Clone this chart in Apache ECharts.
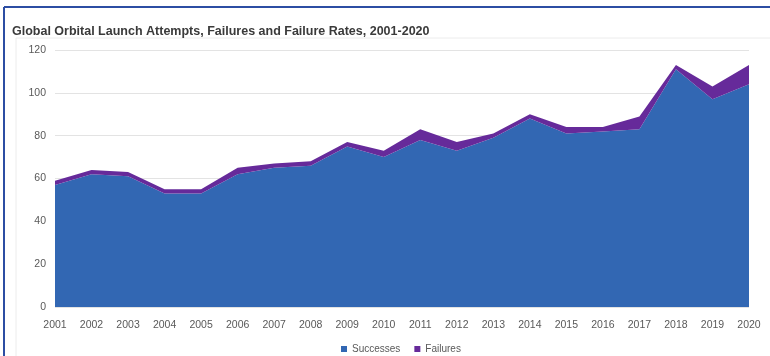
<!DOCTYPE html>
<html>
<head>
<meta charset="utf-8">
<script src="https://cdn.jsdelivr.net/npm/echarts@6/dist/echarts.min.js"></script>
<style>
  html, body { margin: 0; padding: 0; background: #ffffff; }
  #chart { width: 770px; height: 356px; }
</style>
</head>
<body>
<div id="chart"></div>
<script>
// Launch years on the category axis
const years = ['2001','2002','2003','2004','2005','2006','2007','2008','2009','2010',
               '2011','2012','2013','2014','2015','2016','2017','2018','2019','2020'];
// Successful orbital launches per year
const successes = [57, 62, 61, 53, 53, 62, 65, 66, 75, 70, 78, 73, 79, 88, 81, 82, 83, 111, 97, 104];
// Failed orbital launches per year (stacked above successes)
const failures  = [2, 2, 2, 2, 2, 3, 2, 2, 2, 3, 5, 4, 2, 2, 3, 2, 6, 2, 6, 9];
// Value-axis ticks
const yTicks = [0, 20, 40, 60, 80, 100, 120];

const chart = echarts.init(document.getElementById('chart'), null, { renderer: 'canvas' });

const fontFamily = 'Liberation Sans, Arial, sans-serif';
const labelFont = { color: '#595959', fontSize: 10.5, fontFamily: fontFamily };

chart.setOption({
  backgroundColor: '#ffffff',
  animation: false,
  title: {
    text: 'Global Orbital Launch Attempts, Failures and Failure Rates, 2001-2020',
    left: 7,
    top: 20,
    textStyle: { fontSize: 12.5, fontWeight: 'bold', color: '#3a3a3a', fontFamily: fontFamily }
  },
  graphic: [
    // outer blue frame (top and left edges)
    { type: 'line', shape: { x1: 4, y1: 7, x2: 770, y2: 7 }, style: { stroke: '#2c4ea3', lineWidth: 2 } },
    { type: 'line', shape: { x1: 4, y1: 7, x2: 4, y2: 356 }, style: { stroke: '#2c4ea3', lineWidth: 2 } },
    // light plot-area frame
    { type: 'line', shape: { x1: 16, y1: 38, x2: 770, y2: 38 }, style: { stroke: '#ececec', lineWidth: 1 } },
    { type: 'line', shape: { x1: 16, y1: 38, x2: 16, y2: 356 }, style: { stroke: '#ececec', lineWidth: 1 } }
  ],
  legend: {
    bottom: -3,
    left: 336,
    itemWidth: 6,
    itemHeight: 6,
    itemGap: 14,
    icon: 'rect',
    textStyle: { color: '#595959', fontSize: 10, fontFamily: fontFamily },
    data: ['Successes', 'Failures']
  },
  grid: { left: 55, right: 21, top: 50, bottom: 49, containLabel: false },
  xAxis: {
    type: 'category',
    data: years,
    boundaryGap: false,
    axisLine: { show: false },
    axisTick: { show: false },
    axisLabel: Object.assign({ margin: 13, interval: 0 }, labelFont)
  },
  yAxis: {
    type: 'value',
    min: yTicks[0],
    max: yTicks[yTicks.length - 1],
    interval: yTicks[1] - yTicks[0],
    axisLine: { show: false },
    axisTick: { show: false },
    axisLabel: Object.assign({ margin: 9 }, labelFont),
    splitLine: { lineStyle: { color: '#e3e3e3', width: 1 } }
  },
  series: [
    {
      name: 'Successes',
      type: 'line',
      stack: 'launches',
      data: successes,
      showSymbol: false,
      symbol: 'none',
      lineStyle: { width: 0 },
      itemStyle: { color: '#3267b3' },
      areaStyle: { color: '#3267b3', opacity: 1 }
    },
    {
      name: 'Failures',
      type: 'line',
      stack: 'launches',
      data: failures,
      showSymbol: false,
      symbol: 'none',
      lineStyle: { width: 0 },
      itemStyle: { color: '#662a9a' },
      areaStyle: { color: '#662a9a', opacity: 1 }
    }
  ]
});
</script>
</body>
</html>
